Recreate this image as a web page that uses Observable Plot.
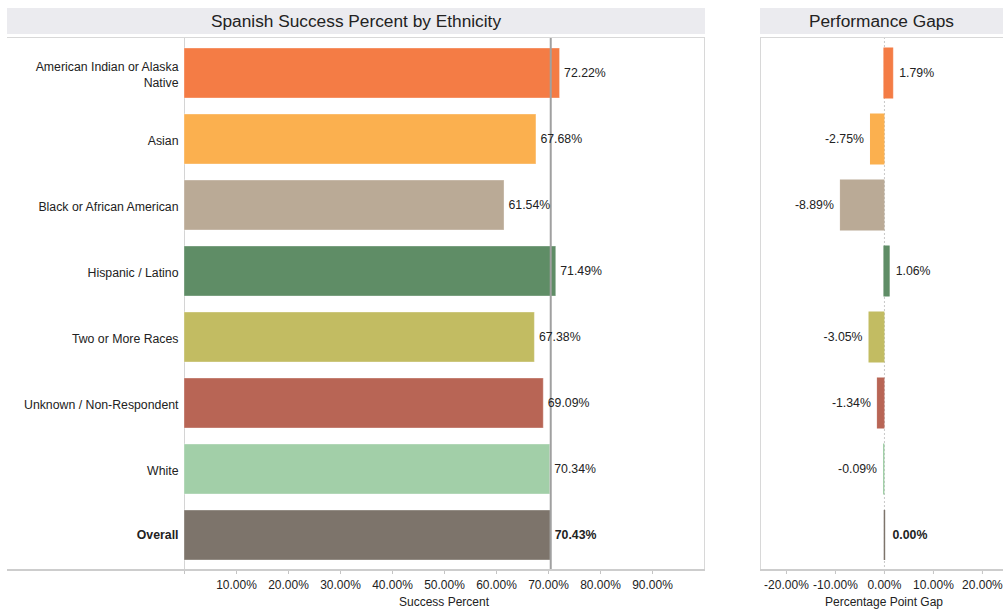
<!DOCTYPE html>
<html>
<head>
<meta charset="utf-8">
<script src="https://cdn.jsdelivr.net/npm/d3@7"></script>
<script src="https://cdn.jsdelivr.net/npm/@observablehq/plot@0.6"></script>
<style>
  html, body { margin: 0; padding: 0; background: #fff; }
  body { font-family: "Liberation Sans", Arial, sans-serif; color: #222; }
  #wrap { position: relative; width: 1003px; height: 611px; overflow: hidden; }
  .title { position: absolute; background: #ebebef; color: #222; font-size: 17.3px;
           text-align: center; line-height: 26px; height: 26px; top: 8px; }
  .hline { position: absolute; height: 0; }
  .axt { position: absolute; font-size: 12px; color: #222; text-align: center; }
  .panel { position: absolute; top: 37px; }
</style>
</head>
<body>
<div id="wrap">
  <div class="title" style="left:7px;width:698px;">Spanish Success Percent by Ethnicity</div>
  <div class="title" style="left:760px;width:243px;">Performance Gaps</div>
  <div id="left" class="panel" style="left:7px;"></div>
  <div id="right" class="panel" style="left:760px;"></div>
  <div class="hline" style="left:7px;width:698px;top:37px;border-top:1px solid #d8d8d8;"></div>
  <div class="hline" style="left:7px;width:698px;top:569px;border-top:2px solid #cdcdcd;"></div>
  <div class="hline" style="left:760px;width:243px;top:37px;border-top:1px solid #d8d8d8;"></div>
  <div class="hline" style="left:760px;width:243px;top:569px;border-top:2px solid #cdcdcd;"></div>
  <div class="axt" style="left:344px;width:200px;top:595px;">Success Percent</div>
  <div class="axt" style="left:784px;width:200px;top:595px;">Percentage Point Gap</div>
</div>
<script>
const categories = [
  "American Indian or Alaska\nNative",
  "Asian",
  "Black or African American",
  "Hispanic / Latino",
  "Two or More Races",
  "Unknown / Non-Respondent",
  "White",
  "Overall"
];
const successPct = [0.7222, 0.6768, 0.6154, 0.7149, 0.6738, 0.6909, 0.7034, 0.7043];
const gapPct = [0.0179, -0.0275, -0.0889, 0.0106, -0.0305, -0.0134, -0.0009, 0.0000];
const colors = ["#f47c45", "#fbb04f", "#baaa96", "#5f8d66", "#c2bc62", "#b86555", "#a2cfa8", "#7d746b"];
const successTicks = [0, 0.1, 0.2, 0.3, 0.4, 0.5, 0.6, 0.7, 0.8, 0.9];
const gapTicks = [-0.2, -0.1, 0, 0.1, 0.2];
const overallValue = 0.7043;

const rows = categories.map((c, i) => ({
  cat: c, value: successPct[i], gap: gapPct[i], color: colors[i], overall: c === "Overall"
}));
const fmt = v => (v * 100).toFixed(2) + "%";
const font = "Liberation Sans, Arial, sans-serif";

const yScale = {domain: categories, paddingInner: 0.25, paddingOuter: 0.125, axis: null};

const left = Plot.plot({
  width: 698, height: 574,
  marginLeft: 177, marginRight: 1, marginTop: 0, marginBottom: 41,
  style: {fontFamily: font, fontSize: "12.3px", color: "#222", background: "transparent"},
  x: {domain: [0, 1.0], axis: null},
  y: yScale,
  marks: [
    Plot.ruleX([0], {stroke: "#d4d4d4"}),
    Plot.frame({stroke: "#d8d8d8", anchor: "right"}),
    Plot.barX(rows, {x: "value", y: "cat", fill: "color", stroke: "#ffffff", strokeOpacity: 0.35}),
    Plot.ruleX([overallValue], {stroke: "#a0a0a0", strokeWidth: 2}),
    Plot.text(rows.filter(d => !d.overall), {x: "value", y: "cat", text: d => fmt(d.value), textAnchor: "start", dx: 4, fill: "#222"}),
    Plot.text(rows.filter(d => d.overall), {x: "value", y: "cat", text: d => fmt(d.value), textAnchor: "start", dx: 4, fill: "#222", fontWeight: "bold"}),
    Plot.text(rows.filter(d => !d.overall), {y: "cat", text: "cat", frameAnchor: "left", textAnchor: "end", dx: -6, fill: "#222", lineHeight: 1.3}),
    Plot.text(rows.filter(d => d.overall), {y: "cat", text: "cat", frameAnchor: "left", textAnchor: "end", dx: -6, fill: "#222", fontWeight: "bold"}),
    Plot.axisX({ticks: successTicks, tickFormat: d => d === 0 ? "" : fmt(d), tickSize: 4, tickPadding: 6,
                stroke: "#c4c4c4", fill: "#222", label: null, fontSize: 12})
  ]
});
document.getElementById("left").appendChild(left);

const right = Plot.plot({
  width: 243, height: 574,
  marginLeft: 0, marginRight: 0, marginTop: 0, marginBottom: 41,
  style: {fontFamily: font, fontSize: "12.3px", color: "#222", background: "transparent"},
  x: {domain: [-0.253, 0.243], axis: null},
  y: yScale,
  marks: [
    Plot.frame({stroke: "#d8d8d8", anchor: "left"}),
    Plot.ruleX([0], {stroke: "#c8c8c8", strokeDasharray: "2,2"}),
    Plot.barX(rows.filter(d => d.gap !== 0), {x1: 0, x2: "gap", y: "cat", fill: "color", stroke: "color", strokeWidth: 1}),
    Plot.tickX(rows.filter(d => d.gap === 0), {x: "gap", y: "cat", stroke: "color", strokeWidth: 1.5}),
    Plot.text(rows.filter(d => !d.overall && d.gap >= 0), {x: "gap", y: "cat", text: d => fmt(d.gap),
      textAnchor: "start", dx: 6, fill: "#222"}),
    Plot.text(rows.filter(d => !d.overall && d.gap < 0), {x: "gap", y: "cat", text: d => fmt(d.gap),
      textAnchor: "end", dx: -7, fill: "#222"}),
    Plot.text(rows.filter(d => d.overall), {x: "gap", y: "cat", text: d => fmt(d.gap),
      textAnchor: "start", dx: 8, fill: "#222", fontWeight: "bold"}),
    Plot.axisX({ticks: gapTicks, tickFormat: fmt, tickSize: 4, tickPadding: 6,
                stroke: "#c4c4c4", fill: "#222", label: null, fontSize: 12})
  ]
});
document.getElementById("right").appendChild(right);
</script>
</body>
</html>
